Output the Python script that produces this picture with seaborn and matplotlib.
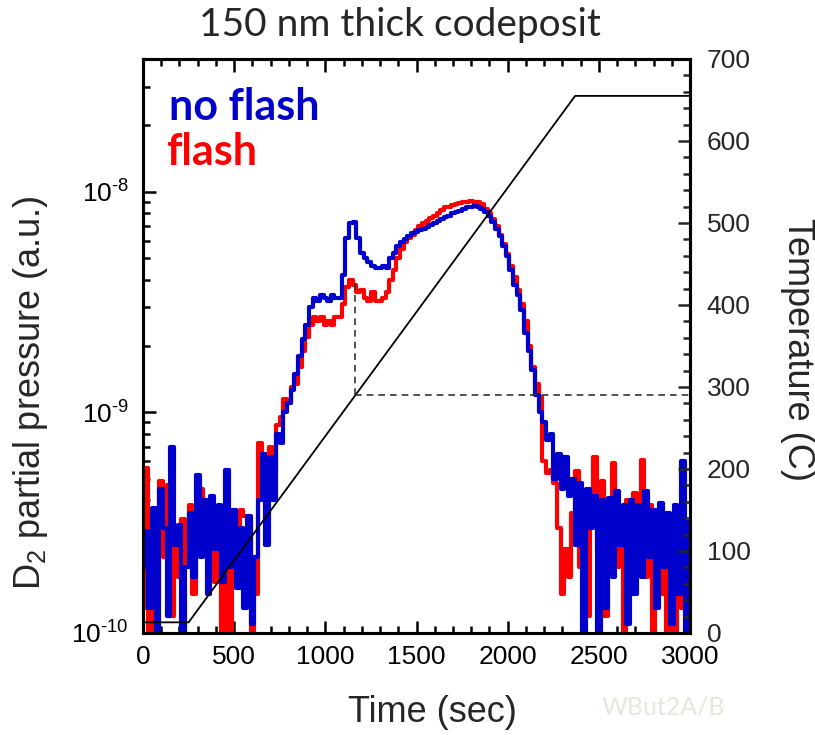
import numpy as np
import pandas as pd
import matplotlib
matplotlib.use("Agg")
import matplotlib.pyplot as plt
import seaborn as sns
from matplotlib.ticker import LogLocator, MultipleLocator, FuncFormatter, NullFormatter

# ---------------- data ----------------
time_s = list(range(0, 3001, 20))
# D2 partial pressure, units of 1e-10 (a.u.)
no_flash = [
    2.0, 2.9, 1.3, 3.7, 1.0, 4.5, 3.0, 1.2, 7.0, 2.5,
    3.1, 0.9, 2.0, 3.5, 1.8, 5.2, 2.2, 4.0, 1.5, 4.2,
    2.4, 3.8, 1.7, 5.5, 2.0, 3.6, 1.6, 3.0, 1.3, 3.4,
    1.1, 2.2, 4.0, 6.5, 2.5, 6.3, 4.0, 8.0, 7.3, 10.0,
    11.0, 12.6, 15.0, 18.0, 21.5, 25.0, 30.0, 33.0, 32.0, 34.0,
    33.0, 32.0, 34.0, 33.0, 33.0, 42.0, 62.0, 72.0, 73.0, 62.0,
    53.0, 50.0, 48.0, 46.0, 45.0, 45.0, 46.0, 45.0, 50.0, 53.0,
    57.0, 59.0, 61.0, 63.0, 65.0, 66.0, 67.0, 68.0, 69.0, 71.0,
    72.0, 74.0, 75.0, 77.0, 78.0, 80.0, 81.0, 82.0, 84.0, 85.0,
    85.0, 86.0, 85.0, 84.0, 81.0, 78.0, 73.0, 68.0, 63.0, 57.0,
    51.0, 44.0, 38.0, 34.0, 29.0, 23.0, 19.0, 15.5, 12.0, 10.0,
    9.0, 7.5, 8.0, 5.0, 6.5, 4.5, 6.3, 4.2, 5.0, 2.5,
    4.8, 0.9, 4.5, 3.0, 4.2, 0.9, 4.0, 1.3, 4.1, 1.8,
    4.4, 2.5, 3.8, 1.1, 4.0, 1.5, 3.8, 1.8, 4.4, 2.2,
    3.6, 1.3, 3.9, 2.0, 3.5, 1.1, 3.8, 1.5, 6.0, 0.9,
    3.2,
]
flash = [
    1.3, 5.6, 1.0, 3.0, 1.4, 4.9, 2.2, 4.7, 1.2, 3.0,
    1.8, 3.3, 2.0, 3.8, 1.5, 3.0, 4.5, 2.3, 3.0, 3.8,
    1.7, 3.3, 0.9, 2.0, 0.9, 3.6, 2.5, 3.6, 3.4, 3.2,
    0.9, 1.5, 7.3, 5.0, 6.5, 7.0, 5.5, 8.8, 9.5, 11.5,
    11.0, 13.0, 13.5, 16.0, 19.0, 22.0, 25.0, 27.0, 26.0, 27.0,
    25.0, 26.0, 25.0, 27.0, 27.0, 31.0, 37.0, 40.0, 38.0, 35.0,
    36.0, 33.0, 32.0, 35.0, 32.0, 32.0, 33.0, 35.0, 40.0, 44.0,
    50.0, 55.0, 59.0, 62.0, 64.0, 67.0, 70.0, 72.0, 74.0, 76.0,
    78.0, 80.0, 83.0, 85.0, 85.0, 87.0, 88.0, 89.0, 90.0, 90.0,
    91.0, 90.0, 90.0, 88.0, 84.0, 80.0, 75.0, 70.0, 64.0, 58.0,
    52.0, 46.0, 41.0, 36.0, 31.0, 26.0, 20.0, 16.0, 13.5, 11.8,
    6.0, 5.3, 5.5, 4.8, 3.0, 1.5, 2.4, 1.8, 3.5, 5.4,
    2.0, 4.0, 1.2, 3.5, 6.3, 2.5, 4.9, 1.2, 3.3, 5.9,
    2.0, 3.2, 1.0, 4.0, 1.6, 4.3, 2.0, 6.1, 1.8, 3.8,
    0.9, 3.6, 1.5, 3.5, 0.9, 2.2, 0.9, 2.5, 1.3, 3.2,
    2.8,
]
temp_time = [0, 250, 2370, 3000]
temp_c = [13, 13, 655, 655]
marker_time = 1160          # s
marker_temp = 290           # C
marker_pressure = 4.0e-9    # a.u.

# ---------------- style ----------------
sns.set_style("ticks")
plt.rcParams["font.family"] = ["Liberation Sans", "DejaVu Sans"]
plt.rcParams["mathtext.fontset"] = "custom"
plt.rcParams["mathtext.rm"] = "Liberation Sans"
plt.rcParams["mathtext.it"] = "Liberation Sans"
plt.rcParams["mathtext.default"] = "regular"
plt.rcParams["axes.unicode_minus"] = False

df = pd.DataFrame({
    "time": time_s * 2,
    "pressure": np.concatenate([np.array(flash), np.array(no_flash)]) * 1e-10,
    "series": ["flash"] * len(time_s) + ["no flash"] * len(time_s),
})

W, H = 815, 735
fig = plt.figure(figsize=(W / 100, H / 100), dpi=100)
ax1 = fig.add_axes([143 / W, 1 - 633 / H, 547 / W, 574 / H])

sns.lineplot(data=df, x="time", y="pressure", hue="series",
             hue_order=["flash", "no flash"],
             palette={"flash": "#FF0000", "no flash": "#0000CC"},
             estimator=None, drawstyle="steps-mid", linewidth=3.0,
             legend=False, ax=ax1)
ax1.set_yscale("log")
ax1.set_xlim(0, 3000)
ax1.set_ylim(1e-10, 4e-8)
ax1.set_xlabel("")
ax1.set_ylabel("")

ax2 = ax1.twinx()
sns.lineplot(x=temp_time, y=temp_c, color="black", linewidth=1.3, ax=ax2)
ax2.set_ylim(0, 700)
ax2.set_xlim(0, 3000)
ax2.set_ylabel("")

# dashed guide lines
top_disp = ax1.transData.transform((marker_time, marker_pressure))
top_temp = ax2.transData.inverted().transform(top_disp)[1]
ax2.plot([marker_time, marker_time], [marker_temp, top_temp], ls=(0, (4, 3)),
         color="#333333", lw=1.2)
ax2.plot([marker_time, 3000], [marker_temp, marker_temp], ls=(0, (4, 3)),
         color="#333333", lw=1.2)


def log_label(v, pos):
    e = int(round(np.log10(v)))
    return r"$10^{\text{-%d}}$" % (-e) if e < 0 else r"$10^{%d}$" % e


# ticks
ax1.xaxis.set_major_locator(MultipleLocator(500))
ax1.xaxis.set_minor_locator(MultipleLocator(100))
ax1.yaxis.set_major_locator(LogLocator(base=10))
ax1.yaxis.set_minor_locator(LogLocator(base=10, subs=np.arange(2, 10)))
ax1.yaxis.set_major_formatter(FuncFormatter(log_label))
ax1.yaxis.set_minor_formatter(NullFormatter())
ax1.tick_params(axis="both", which="both", direction="in", top=True, right=False,
                labelsize=19, width=1.8, colors="black")
ax1.tick_params(which="major", length=9)
ax1.tick_params(which="minor", length=5)
ax1.tick_params(axis="x", pad=9)
ax1.tick_params(axis="y", pad=10)

ax2.yaxis.set_major_locator(MultipleLocator(100))
ax2.yaxis.set_minor_locator(MultipleLocator(20))
ax2.tick_params(axis="y", which="both", direction="in", right=True, left=False,
                labelsize=19, width=1.8, pad=12)
ax2.tick_params(which="major", length=9)
ax2.tick_params(which="minor", length=5)

for ax in (ax1, ax2):
    for s in ax.spines.values():
        s.set_linewidth(2.2)
        s.set_color("black")
        s.set_visible(True)

# axis labels
fig.text(432 / W, 1 - 712 / H, "Time (sec)", fontsize=26, ha="center", va="center")
fig.text(31 / W, 1 - 393 / H, r"D$_{2}$ partial pressure (a.u.)", fontsize=26,
         rotation=90, ha="center", va="center")
fig.text(797 / W, 1 - 350 / H, "Temperature (C)", fontsize=26,
         rotation=270, ha="center", va="center")

# legend-like texts
ax1.text(0.047, 0.894, "no flash", transform=ax1.transAxes, color="#0000CC",
         fontsize=31, fontweight="bold", family=["Lato", "DejaVu Sans"], va="baseline")
ax1.text(0.043, 0.815, "flash", transform=ax1.transAxes, color="#FF0000",
         fontsize=31, fontweight="bold", family=["Lato", "DejaVu Sans"], va="baseline")

fig.text(400 / W, 1 - 25 / H, "150 nm thick codeposit", fontsize=28,
         family=["Lato", "DejaVu Sans"], ha="center", va="center")
fig.text(663 / W, 1 - 707 / H, "WBut2A/B", fontsize=18, color="#EAE6DC",
         family=["Lato", "DejaVu Sans"], ha="center", va="center")

fig.savefig("out.png", dpi=100)
